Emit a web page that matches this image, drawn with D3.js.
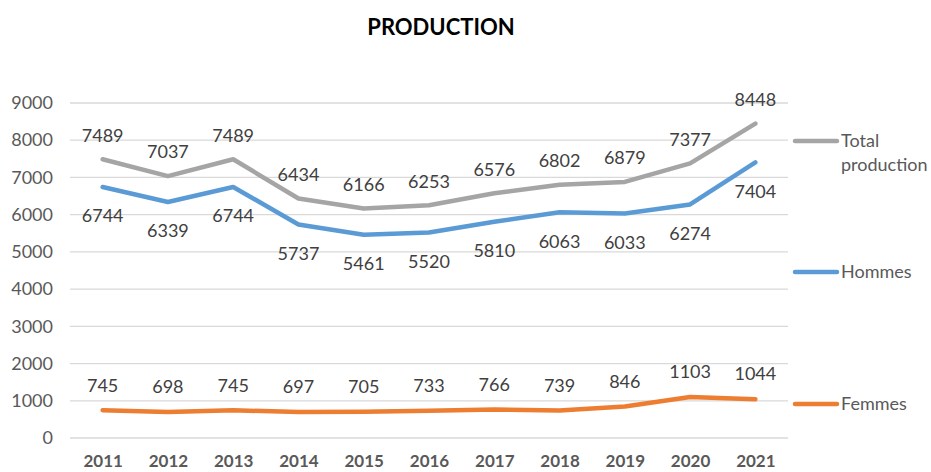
<!DOCTYPE html>
<html>
<head>
<meta charset="utf-8">
<script src="https://cdn.jsdelivr.net/npm/d3@7"></script>
<style>
  body { margin: 0; background: #fff; }
  text { font-family: Lato, "Open Sans", sans-serif; }
</style>
</head>
<body>
<div id="chart"></div>
<script>
// data
var years = ['2011','2012','2013','2014','2015','2016','2017','2018','2019','2020','2021'];
var total = [7489, 7037, 7489, 6434, 6166, 6253, 6576, 6802, 6879, 7377, 8448];
var hommes = [6744, 6339, 6744, 5737, 5461, 5520, 5810, 6063, 6033, 6274, 7404];
var femmes = [745, 698, 745, 697, 705, 733, 766, 739, 846, 1103, 1044];
var yTicks = [0, 1000, 2000, 3000, 4000, 5000, 6000, 7000, 8000, 9000];

var width = 931, height = 472;
var plotLeft = 70, plotRight = 788, plotTop = 103, plotBottom = 438;

var series = [
    { name: ['Total', 'production'], values: total, color: '#A5A5A5', dy: -24, legendY: 141 },
    { name: ['Hommes'], values: hommes, color: '#5B9BD5', dy: 29, legendY: 272 },
    { name: ['Femmes'], values: femmes, color: '#ED7D31', dy: -25, legendY: 404 }
];

var svg = d3.select('#chart').append('svg')
    .attr('width', width)
    .attr('height', height);

var x = d3.scalePoint().domain(years).range([plotLeft, plotRight]).padding(0.5);
var y = d3.scaleLinear().domain([0, 9000]).range([plotBottom, plotTop]);

svg.append('text')
    .attr('x', 441).attr('y', 35)
    .attr('text-anchor', 'middle')
    .style('font-size', '22px').style('font-weight', 'bold')
    .attr('fill', '#000')
    .text('PRODUCTION');

// gridlines
svg.append('g').selectAll('line')
    .data(yTicks)
    .enter().append('line')
    .attr('x1', plotLeft).attr('x2', plotRight)
    .attr('y1', function(d){ return y(d); })
    .attr('y2', function(d){ return y(d); })
    .attr('stroke', '#D9D9D9')
    .attr('stroke-width', 1.3);

// y axis labels
var yAxis = d3.axisLeft(y).tickValues(yTicks).tickSize(0).tickPadding(0).tickFormat(d3.format('d'));
var ya = svg.append('g')
    .attr('transform', 'translate(53,0)')
    .call(yAxis);
ya.select('.domain').remove();
ya.selectAll('text')
    .style('font-size', '18px')
    .style('font-family', 'Lato, sans-serif')
    .attr('fill', '#595959');

// x axis labels
var xAxis = d3.axisBottom(x).tickSize(0).tickPadding(0);
var xa = svg.append('g')
    .attr('transform', 'translate(0,455)')
    .call(xAxis);
xa.select('.domain').remove();
xa.selectAll('text')
    .style('font-size', '17px')
    .style('font-weight', 'bold')
    .style('font-family', 'Lato, sans-serif')
    .attr('fill', '#595959');

var line = d3.line()
    .x(function(d, i){ return x(years[i]); })
    .y(function(d){ return y(d); });

series.forEach(function(s) {
    svg.append('path')
        .datum(s.values)
        .attr('d', line)
        .attr('fill', 'none')
        .attr('stroke', s.color)
        .attr('stroke-width', 4.5)
        .attr('stroke-linejoin', 'round')
        .attr('stroke-linecap', 'round');

    svg.append('g').selectAll('text')
        .data(s.values)
        .enter().append('text')
        .attr('x', function(d, i){ return x(years[i]); })
        .attr('y', function(d){ return y(d) + s.dy; })
        .attr('dy', '0.35em')
        .attr('text-anchor', 'middle')
        .style('font-size', '18px')
        .attr('fill', '#404040')
        .text(function(d){ return d; });

    // legend
    svg.append('line')
        .attr('x1', 795).attr('x2', 837)
        .attr('y1', s.legendY).attr('y2', s.legendY)
        .attr('stroke', s.color)
        .attr('stroke-width', 4.5)
        .attr('stroke-linecap', 'round');
    s.name.forEach(function(t, k) {
        svg.append('text')
            .attr('x', 841)
            .attr('y', s.legendY + k * 24)
            .attr('dy', '0.35em')
            .style('font-size', '18px')
            .attr('fill', '#595959')
            .text(t);
    });
});
</script>
</body>
</html>
